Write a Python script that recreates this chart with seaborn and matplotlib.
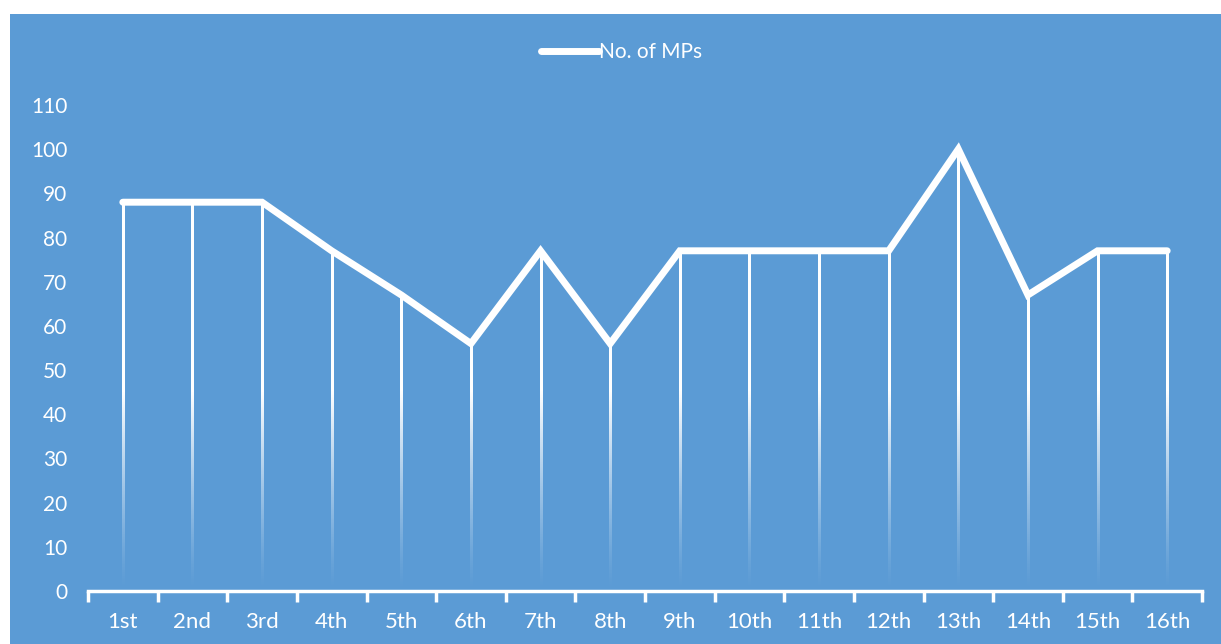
import numpy as np
import pandas as pd
import matplotlib
matplotlib.use("Agg")
import matplotlib.pyplot as plt
import seaborn as sns
from matplotlib.patches import Rectangle

# data
parliaments = ["1st", "2nd", "3rd", "4th", "5th", "6th", "7th", "8th",
               "9th", "10th", "11th", "12th", "13th", "14th", "15th", "16th"]
mps = [88, 88, 88, 77, 67, 56, 77, 56, 77, 77, 77, 77, 100, 67, 77, 77]
y_ticks = list(range(0, 111, 10))

BLUE = "#5B9BD5"

df = pd.DataFrame({"Parliament": parliaments, "No. of MPs": mps})
df["pos"] = np.arange(len(df))

sns.set_style("white")
plt.rcParams["font.family"] = ["Lato", "DejaVu Sans"]

fig = plt.figure(figsize=(12.21, 6.44), dpi=100, facecolor="white")
fig.patches.append(Rectangle((10 / 1221, 0), 1, 630 / 644, transform=fig.transFigure,
                             facecolor=BLUE, edgecolor="none", zorder=-10))
ax = fig.add_axes([88 / 1221, 53 / 644, 1114 / 1221, 486 / 644])
ax.set_zorder(5)
ax.set_facecolor("none")

# drop lines, fading out towards the axis
hw = 1.0 / 69.6
for x, y in zip(df["pos"], df["No. of MPs"]):
    vals = np.linspace(0, y, 200)
    rgba = np.ones((200, 1, 4))
    rgba[:, 0, 3] = np.clip(vals / 45, 0, 1) ** 1.3
    ax.imshow(rgba, extent=(x - hw, x + hw, 0, y), origin="lower", aspect="auto",
              interpolation="bilinear", zorder=2)

sns.lineplot(data=df, x="pos", y="No. of MPs", color="white", linewidth=5,
             solid_capstyle="round", solid_joinstyle="miter", ax=ax,
             label="No. of MPs", zorder=3)

ax.set_xlim(-0.5, len(df) - 0.5)
ax.set_ylim(0, 110)
ax.set_yticks(y_ticks)
ax.set_xticks(df["pos"])
ax.set_xticklabels(df["Parliament"])
ax.set_xticks(np.arange(-0.5, len(df), 1), minor=True)
ax.tick_params(axis="x", which="major", bottom=False, length=0, pad=15,
               labelsize=16, labelcolor="white")
ax.tick_params(axis="x", which="minor", bottom=True, length=8, width=2.5,
               color="white", direction="out")
ax.tick_params(axis="y", left=False, length=0, pad=15, labelsize=15, labelcolor="white")
ax.set_xlabel("")
ax.set_ylabel("")

for side in ["top", "right", "left"]:
    ax.spines[side].set_visible(False)
ax.spines["bottom"].set_color("white")
ax.spines["bottom"].set_linewidth(2.5)

leg = ax.legend(loc="center", bbox_to_anchor=(0.479, 1.109), frameon=False,
                fontsize=15, handlelength=2.8, handletextpad=0.0)
for t in leg.get_texts():
    t.set_color("white")

fig.savefig("out.png", dpi=100, facecolor="white")
